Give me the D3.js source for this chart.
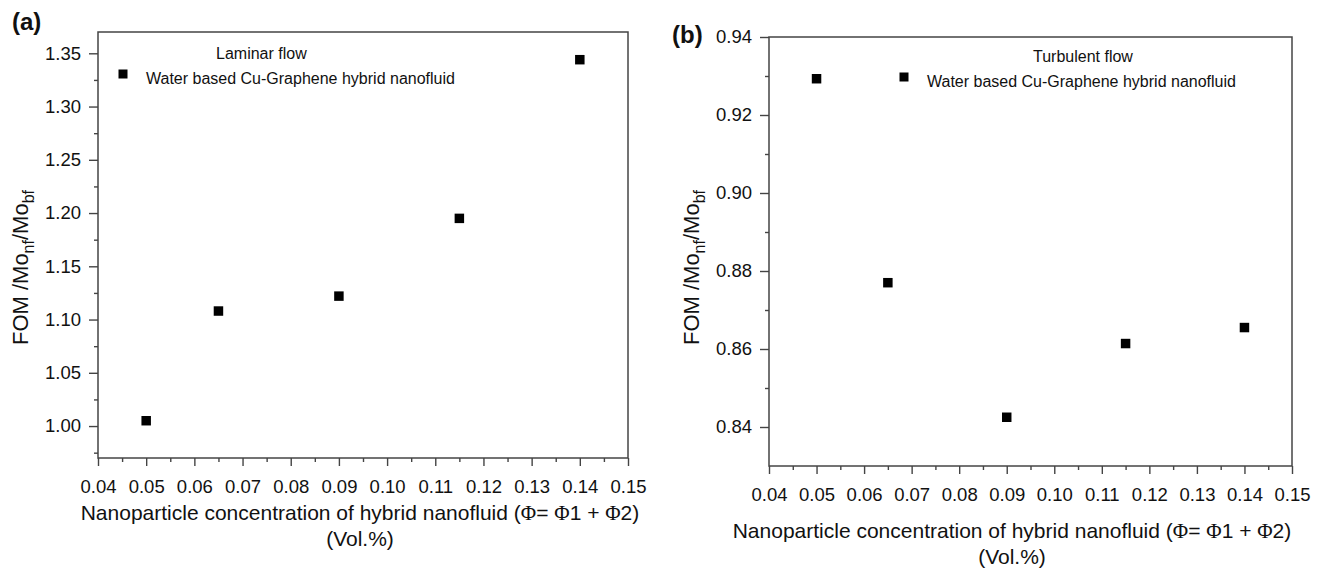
<!DOCTYPE html>
<html>
<head>
<meta charset="utf-8">
<script src="https://cdn.jsdelivr.net/npm/d3@7"></script>
<style>
  body { margin: 0; background: #fff; }
  svg { font-family: "Liberation Sans", Arial, sans-serif; }
  .axis path, .axis line { stroke: #444; stroke-width: 1.4; }
  .axis text { font-size: 18.5px; fill: #111; }
</style>
</head>
<body>
<svg id="chart" width="1320" height="573"></svg>
<script>
// concentration (Vol.%) shared by both panels
var concentration = [0.05, 0.065, 0.09, 0.115, 0.14]

// FOM values
var fomLaminar = [1.005, 1.108, 1.122, 1.195, 1.344]
var fomTurbulent = [0.9293, 0.877, 0.8425, 0.8614, 0.8655]

var xTicks = [0.04, 0.05, 0.06, 0.07, 0.08, 0.09, 0.10, 0.11, 0.12, 0.13, 0.14, 0.15]
var xMinorTicks = [0.045, 0.055, 0.065, 0.075, 0.085, 0.095, 0.105, 0.115, 0.125, 0.135, 0.145]
var yTicksLaminar = [1.00, 1.05, 1.10, 1.15, 1.20, 1.25, 1.30, 1.35]
var yMinorLaminar = [0.975, 1.025, 1.075, 1.125, 1.175, 1.225, 1.275, 1.325]
var yTicksTurbulent = [0.84, 0.86, 0.88, 0.90, 0.92, 0.94]
var yMinorTurbulent = [0.85, 0.87, 0.89, 0.91, 0.93]

var legendLabel = 'Water based Cu-Graphene hybrid nanofluid'

var svg = d3.select('#chart')

function drawPanel(cfg) {
  var x = d3.scaleLinear().domain([0.04, 0.15]).range([cfg.left, cfg.right])
  var y = d3.scaleLinear().domain(cfg.yDomain).range([cfg.bottom, cfg.top])
  var g = svg.append('g')

  // frame
  g.append('rect')
    .attr('x', cfg.left)
    .attr('y', cfg.top)
    .attr('width', cfg.right - cfg.left)
    .attr('height', cfg.bottom - cfg.top)
    .attr('fill', 'none')
    .attr('stroke', '#444')
    .attr('stroke-width', 1.5)

  // x axis
  g.append('g')
    .attr('class', 'x axis')
    .attr('transform', 'translate(0,' + cfg.bottom + ')')
    .call(d3.axisBottom(x).tickValues(xTicks).tickSize(8).tickPadding(14)
      .tickFormat(d3.format('.2f')))
    .call(function (s) { s.select('.domain').remove() })

  g.append('g')
    .attr('class', 'x axis')
    .attr('transform', 'translate(0,' + cfg.bottom + ')')
    .call(d3.axisBottom(x).tickValues(xMinorTicks).tickSize(4).tickFormat(''))
    .call(function (s) { s.select('.domain').remove() })

  // y axis
  g.append('g')
    .attr('class', 'y axis')
    .attr('transform', 'translate(' + cfg.left + ',0)')
    .call(d3.axisLeft(y).tickValues(cfg.yTicks).tickSize(9).tickPadding(8)
      .tickFormat(d3.format('.2f')))
    .call(function (s) { s.select('.domain').remove() })

  g.append('g')
    .attr('class', 'y axis')
    .attr('transform', 'translate(' + cfg.left + ',0)')
    .call(d3.axisLeft(y).tickValues(cfg.yMinor).tickSize(4).tickFormat(''))
    .call(function (s) { s.select('.domain').remove() })

  // points
  var pts = concentration.map(function (c, i) { return { x: c, y: cfg.values[i] } })
  g.selectAll('path.pt')
      .data(pts)
    .enter().append('path')
      .attr('class', 'pt')
      .attr('d', d3.symbol(d3.symbolSquare, 90))
      .attr('transform', function (d) { return 'translate(' + x(d.x) + ',' + y(d.y) + ')' })
      .attr('fill', '#000')

  // legend
  g.append('rect')
    .attr('x', cfg.left + cfg.legendDx - 4.5)
    .attr('y', cfg.top + cfg.legendDy - 4.5)
    .attr('width', 9)
    .attr('height', 9)
    .attr('fill', '#000')

  g.append('text')
    .attr('x', cfg.left + cfg.legendDx + 23)
    .attr('y', cfg.top + cfg.legendDy + 10)
    .attr('font-size', 16)
    .attr('fill', '#111')
    .text(legendLabel)

  g.append('text')
    .attr('x', cfg.left + cfg.flowDx)
    .attr('y', cfg.top + cfg.legendDy - 15)
    .attr('font-size', 16)
    .attr('fill', '#111')
    .text(cfg.flow)

  // panel tag
  g.append('text')
    .attr('x', cfg.tagX)
    .attr('y', cfg.tagY)
    .attr('font-size', 24)
    .attr('font-weight', 'bold')
    .attr('fill', '#111')
    .text(cfg.tag)

  // y title
  var yt = g.append('text')
    .attr('transform', 'translate(' + cfg.yTitleX + ',' + (cfg.top + cfg.yTitleDy) + ') rotate(-90)')
    .attr('text-anchor', 'end')
    .attr('font-size', 22)
    .attr('fill', '#111')
  yt.append('tspan').text('FOM /Mo')
  yt.append('tspan').attr('dy', 6).attr('font-size', 16).text('nf')
  yt.append('tspan').attr('dy', -6).text('/Mo')
  yt.append('tspan').attr('dy', 6).attr('font-size', 16).text('bf')

  // x title
  var xt = g.append('text')
    .attr('x', cfg.xTitleX)
    .attr('y', cfg.bottom + cfg.xTitleDy)
    .attr('text-anchor', 'middle')
    .attr('font-size', 21)
    .attr('fill', '#111')
  xt.append('tspan').text('Nanoparticle concentration of hybrid nanofluid (')
  xt.append('tspan').attr('font-family', 'Liberation Serif, serif').text('Φ')
  xt.append('tspan').text('= ')
  xt.append('tspan').attr('font-family', 'Liberation Serif, serif').text('Φ')
  xt.append('tspan').text('1 + ')
  xt.append('tspan').attr('font-family', 'Liberation Serif, serif').text('Φ')
  xt.append('tspan').text('2)')

  g.append('text')
    .attr('x', cfg.xTitleX)
    .attr('y', cfg.bottom + cfg.xTitleDy + 26)
    .attr('text-anchor', 'middle')
    .attr('font-size', 21)
    .attr('fill', '#111')
    .text('(Vol.%)')
}

drawPanel({
  tag: '(a)', tagX: 12, tagY: 30,
  left: 98, right: 628, top: 32, bottom: 458,
  yDomain: [0.97, 1.37], yTicks: yTicksLaminar, yMinor: yMinorLaminar,
  values: fomLaminar,
  flow: 'Laminar flow', flowDx: 118, legendDx: 25, legendDy: 42,
  yTitleX: 28, yTitleDy: 158, xTitleX: 360, xTitleDy: 62
})

drawPanel({
  tag: '(b)', tagX: 672, tagY: 43,
  left: 769, right: 1292, top: 37, bottom: 466,
  yDomain: [0.83, 0.94], yTicks: yTicksTurbulent, yMinor: yMinorTurbulent,
  values: fomTurbulent,
  flow: 'Turbulent flow', flowDx: 264, legendDx: 135, legendDy: 40,
  yTitleX: 699, yTitleDy: 153, xTitleX: 1012, xTitleDy: 72
})
</script>
</body>
</html>
